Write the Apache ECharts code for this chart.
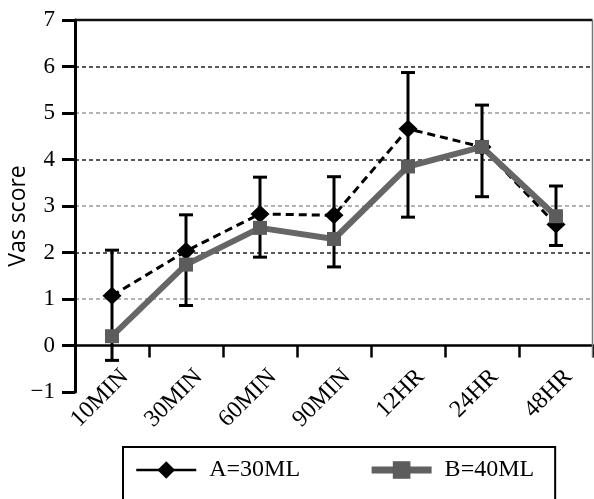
<!DOCTYPE html>
<html>
<head>
<meta charset="utf-8">
<script src="https://cdn.jsdelivr.net/npm/echarts@6/dist/echarts.min.js"></script>
<style>
html,body{margin:0;padding:0;background:#fff;}
#main{width:594px;height:499px;}
</style>
</head>
<body>
<div id="main"></div>
<script>
const categories = ['10MIN', '30MIN', '60MIN', '90MIN', '12HR', '24HR', '48HR'];
const seriesA = [1.07, 2.03, 2.83, 2.80, 4.66, 4.27, 2.60];
const seriesB = [0.20, 1.74, 2.53, 2.29, 3.85, 4.27, 2.78];
const errHigh = [2.05, 2.81, 3.62, 3.63, 5.87, 5.17, 3.43];
const errLow = [-0.32, 0.86, 1.90, 1.69, 2.76, 3.20, 2.15];
const yMin = -1, yMax = 7, yStep = 1;
const nameA = 'A=30ML', nameB = 'B=40ML';
const yTitle = 'Vas score';

const serif = 'Liberation Serif';
const chart = echarts.init(document.getElementById('main'));

const errData = categories.map((c, i) => [i, errLow[i], errHigh[i]]);

chart.setOption({
  animation: false,
  backgroundColor: '#fff',
  grid: { left: 75, right: 1, top: 20, bottom: 107, containLabel: false, outerBoundsMode: 'none' },
  legend: {
    left: 123, top: 447,
    padding: [11, 21, 40, 12],
    borderColor: '#000', borderWidth: 2,
    itemWidth: 60, itemHeight: 22, itemGap: 68,
    textStyle: { fontFamily: serif, fontSize: 24, color: '#000', padding: [0, 0, 0, 8] },
    data: [
      { name: nameA, lineStyle: { type: 'solid', width: 2.5, color: '#000' } },
      { name: nameB, lineStyle: { type: 'solid', width: 7, color: '#606060' } }
    ]
  },
  xAxis: {
    type: 'category',
    data: categories,
    boundaryGap: true,
    axisLine: { onZero: true, lineStyle: { color: '#000', width: 2.5 } },
    axisTick: { show: true, length: 12, lineStyle: { color: '#000', width: 2.5 } },
    axisLabel: { rotate: 45, margin: -6, padding: [0, -18, 0, 0], fontFamily: serif, fontSize: 24, color: '#000' },
    splitLine: { show: false }
  },
  yAxis: {
    type: 'value',
    min: yMin, max: yMax, interval: yStep,
    name: yTitle,
    nameLocation: 'middle',
    nameGap: 45,
    nameMoveOverlap: false,
    nameTextStyle: { fontFamily: 'Open Sans', fontSize: 23, color: '#000', padding: [0, 20, 0, 0] },
    axisLine: { show: true, lineStyle: { color: '#000', width: 3 } },
    axisTick: { show: true, length: 13, lineStyle: { color: '#000', width: 3 } },
    axisLabel: {
      margin: 20, fontFamily: serif, fontSize: 23, color: '#000',
      formatter: v => v < 0 ? '\u2212' + (-v) : String(v)
    },
    splitLine: {
      show: true,
      lineStyle: {
        type: [4, 3], width: 1.5,
        color: ['rgba(0,0,0,0)', 'rgba(0,0,0,0)', '#9a9a9a', '#222', '#9a9a9a', '#222', '#9a9a9a', '#222', 'rgba(0,0,0,0)']
      }
    }
  },
  series: [
    {
      type: 'custom',
      name: 'frame',
      silent: true,
      z: 2,
      data: [[0, 0]],
      renderItem: function (params, api) {
        const cs = params.coordSys;
        const yTop = api.coord([0, yMax])[1];
        const yZero = api.coord([0, 0])[1];
        const xR = cs.x + cs.width - 0.5;
        return {
          type: 'group',
          children: [
            { type: 'line', shape: { x1: cs.x, y1: yTop, x2: xR, y2: yTop }, style: { stroke: '#111', lineWidth: 2.5 } },
            { type: 'line', shape: { x1: xR, y1: yTop, x2: xR, y2: yZero + 12 }, style: { stroke: '#777', lineWidth: 1.5 } }
          ]
        };
      }
    },
    {
      type: 'custom',
      name: 'err',
      z: 3,
      data: errData,
      encode: { x: 0, y: [1, 2] },
      renderItem: function (params, api) {
        const x = api.value(0);
        const lo = api.coord([x, api.value(1)]);
        const hi = api.coord([x, api.value(2)]);
        const cap = 7;
        const st = { stroke: '#000', lineWidth: 3 };
        return {
          type: 'group',
          children: [
            { type: 'line', shape: { x1: lo[0], y1: lo[1], x2: hi[0], y2: hi[1] }, style: st },
            { type: 'line', shape: { x1: hi[0] - cap, y1: hi[1], x2: hi[0] + cap, y2: hi[1] }, style: st },
            { type: 'line', shape: { x1: lo[0] - cap, y1: lo[1], x2: lo[0] + cap, y2: lo[1] }, style: st }
          ]
        };
      }
    },
    {
      type: 'line',
      name: nameA,
      data: seriesA,
      z: 4,
      symbol: 'diamond',
      symbolSize: [19, 18],
      itemStyle: { color: '#000' },
      lineStyle: { color: '#000', width: 3, type: [8, 5] }
    },
    {
      type: 'line',
      name: nameB,
      data: seriesB,
      z: 5,
      symbol: 'rect',
      symbolSize: 14,
      itemStyle: { color: '#5c5c5c' },
      lineStyle: { color: '#666', width: 6 }
    }
  ]
});
</script>
</body>
</html>
